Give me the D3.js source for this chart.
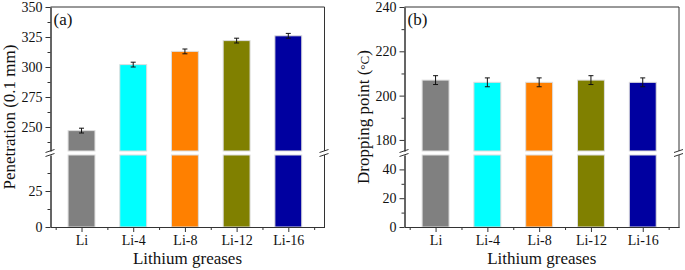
<!DOCTYPE html>
<html>
<head>
<meta charset="utf-8">
<script src="https://d3js.org/d3.v7.min.js"></script>
<style>
  body { margin: 0; background: #fff; }
  svg text { font-family: "Liberation Serif", "Times New Roman", serif; fill: #111; }
</style>
</head>
<body>
<div id="chart"></div>
<script>
// data
const categories = ["Li", "Li-4", "Li-8", "Li-12", "Li-16"];
const barColors = ["#808080", "#00ffff", "#ff8000", "#808000", "#0000a0"];

const penetration = [247, 302, 313, 322, 326];
const penetrationErr = [2, 2, 2, 2, 2];
const droppingPoint = [207, 206, 206, 207, 206];
const droppingErr = [2, 2, 2, 2, 2];

// y ticks, split around the axis break
const penLowTicks = [0, 25];
const penHighTicks = [250, 275, 300, 325, 350];
const dropLowTicks = [0, 20, 40];
const dropHighTicks = [180, 200, 220, 240];

const svg = d3.select("#chart").append("svg")
    .attr("width", 685)
    .attr("height", 270);

const axisColor = "#333";
const yTop = 7, yBreakHi = 151, yBreakLo = 155, yBottom = 227;

const panels = [
  {left: 50.5, right: 324.5, low: [0, 50], high: [230, 350],
   lowTicks: penLowTicks, lowMinor: [12.5, 37.5],
   highTicks: penHighTicks, highMinor: [237.5, 262.5, 287.5, 312.5, 337.5],
   values: penetration, errs: penetrationErr,
   title: "Penetration (0.1 mm)", titleX: 15, tag: "(a)"},
  {left: 404.5, right: 679, low: [0, 50], high: [175, 240],
   lowTicks: dropLowTicks, lowMinor: [10, 30],
   highTicks: dropHighTicks, highMinor: [190, 210, 230],
   values: droppingPoint, errs: droppingErr,
   title: "Dropping point (", titleX: 369, tag: "(b)", degree: true}
];

panels.forEach(p => {
  const g = svg.append("g");

  const x = d3.scaleLinear().domain([0.4, 5.7]).range([p.left, p.right]);
  const yLow = d3.scaleLinear().domain(p.low).range([yBottom, yBreakLo]);
  const yHigh = d3.scaleLinear().domain(p.high).range([yBreakHi, yTop]);
  const halfW = 0.26;

  const data = categories.map((c, i) => ({name: c, pos: i + 1, v: p.values[i], e: p.errs[i], color: barColors[i]}));

  // bars: lower piece up to the break, upper piece from the break to the value
  g.selectAll("rect.low").data(data).enter().append("rect")
      .attr("class", "low")
      .attr("x", d => x(d.pos - halfW))
      .attr("width", d => x(d.pos + halfW) - x(d.pos - halfW))
      .attr("y", yLow(p.low[1]))
      .attr("height", yLow(0) - yLow(p.low[1]))
      .style("fill", d => d.color)
      .style("stroke", "#ddd").style("stroke-width", 1);

  g.selectAll("rect.high").data(data).enter().append("rect")
      .attr("class", "high")
      .attr("x", d => x(d.pos - halfW))
      .attr("width", d => x(d.pos + halfW) - x(d.pos - halfW))
      .attr("y", d => yHigh(d.v))
      .attr("height", d => yHigh(p.high[0]) - yHigh(d.v))
      .style("fill", d => d.color)
      .style("stroke", "#ddd").style("stroke-width", 1);

  // error bars
  const eb = g.selectAll("g.err").data(data).enter().append("g").attr("class", "err")
      .style("stroke", "#111").style("stroke-width", 1);
  eb.append("line")
      .attr("x1", d => x(d.pos)).attr("x2", d => x(d.pos))
      .attr("y1", d => yHigh(d.v + d.e)).attr("y2", d => yHigh(d.v - d.e));
  eb.append("line")
      .attr("x1", d => x(d.pos) - 2.5).attr("x2", d => x(d.pos) + 2.5)
      .attr("y1", d => yHigh(d.v + d.e)).attr("y2", d => yHigh(d.v + d.e));
  eb.append("line")
      .attr("x1", d => x(d.pos) - 2.5).attr("x2", d => x(d.pos) + 2.5)
      .attr("y1", d => yHigh(d.v - d.e)).attr("y2", d => yHigh(d.v - d.e));

  // y axes (two segments)
  const styleAxis = sel => {
    sel.selectAll("path, line").style("stroke", axisColor);
    sel.selectAll("text").style("font-size", "14px").style("font-family", "Liberation Serif, serif");
  };
  [[yLow, p.lowTicks, p.lowMinor], [yHigh, p.highTicks, p.highMinor]].forEach(([sc, major, minor]) => {
    g.append("g").attr("transform", `translate(${p.left},0)`)
        .call(d3.axisLeft(sc).tickValues(minor).tickSize(3).tickSizeOuter(0).tickFormat(""))
        .call(styleAxis);
    g.append("g").attr("transform", `translate(${p.left},0)`)
        .call(d3.axisLeft(sc).tickValues(major).tickSize(5).tickSizeOuter(0).tickPadding(3))
        .call(styleAxis);
    // right border segment
    g.append("line")
        .attr("x1", p.right).attr("x2", p.right)
        .attr("y1", sc.range()[0]).attr("y2", sc.range()[1])
        .style("stroke", axisColor);
  });

  // top border
  g.append("line")
      .attr("x1", p.left).attr("x2", p.right)
      .attr("y1", yTop).attr("y2", yTop)
      .style("stroke", axisColor);

  // break marks
  [p.left, p.right].forEach(bx => {
    [yBreakHi, yBreakLo].forEach(by => {
      g.append("line")
          .attr("x1", bx - 5).attr("y1", by + 1.5)
          .attr("x2", bx + 4).attr("y2", by - 1.5)
          .style("stroke", axisColor);
    });
  });

  // x axis
  g.append("g").attr("transform", `translate(0,${yBottom})`)
      .call(d3.axisBottom(x).tickValues([0.5, 1.5, 2.5, 3.5, 4.5, 5.5]).tickSize(3).tickSizeOuter(0).tickFormat(""))
      .call(styleAxis);
  g.append("g").attr("transform", `translate(0,${yBottom})`)
      .call(d3.axisBottom(x).tickValues([1, 2, 3, 4, 5]).tickSize(5).tickSizeOuter(0).tickPadding(3)
        .tickFormat(d => categories[d - 1]))
      .call(styleAxis);

  // titles
  g.append("text")
      .attr("x", (p.left + p.right) / 2).attr("y", 264)
      .attr("text-anchor", "middle")
      .style("font-size", "17px")
      .text("Lithium greases");

  const yt = g.append("text")
      .attr("transform", `translate(${p.titleX},${(yTop + yBottom) / 2}) rotate(-90)`)
      .attr("text-anchor", "middle")
      .style("font-size", "17px")
      .text(p.title);
  if (p.degree) {
    yt.append("tspan").style("font-size", "13px").text("°C");
    yt.append("tspan").text(")");
  }

  g.append("text")
      .attr("x", p.left + 3).attr("y", 25)
      .style("font-size", "17px")
      .text(p.tag);
});
</script>
</body>
</html>
